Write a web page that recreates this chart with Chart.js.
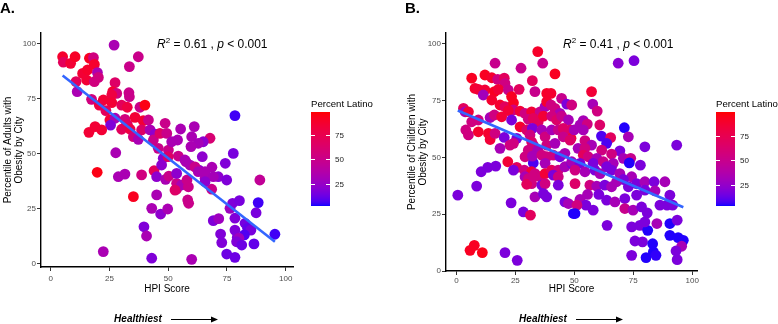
<!DOCTYPE html>
<html>
<head>
<meta charset="utf-8">
<script src="https://cdn.jsdelivr.net/npm/chart.js@4.4.1/dist/chart.umd.min.js"></script>
<style>
    html, body { margin: 0; padding: 0; background: #fff; }
    #wrap { position: relative; width: 778px; height: 324px; overflow: hidden; }
    .panel { position: absolute; top: 0; width: 389px; height: 324px; }
</style>
</head>
<body>
<div id="wrap">
    <div class="panel" style="left:0"><canvas id="chartA" width="389" height="324"></canvas></div>
    <div class="panel" style="left:389px"><canvas id="chartB" width="389" height="324"></canvas></div>
</div>
<script>
// panel A: adults
const hpiA = [27, 5.1, 5.4, 8.5, 10.4, 16.5, 18.2, 18.6, 37.3, 33.5, 13.6, 15.7, 19.9, 20.3, 10.8, 11.3, 15.3, 18.6, 27.4, 26.4,
    28.1, 17.4, 22.4, 26, 33.3, 33.5, 20.7, 26, 30.2, 32.6, 38, 40.1, 23.5, 25.2, 27.4, 25.5, 31.6, 32.6, 35.9, 30.2,
    33.8, 39.4, 41.6, 18.9, 16.3, 21.7, 35.2, 37.3, 38.7, 42.3, 44.4, 43.7, 46.5, 48.7, 49.4, 45.8, 50.1, 27.7, 47.9, 19.8,
    28.8, 31.6, 38.7, 44, 45.1, 35.2, 45.1, 43, 46.8, 49.8, 39.7, 40.8, 22.4, 43, 60, 48.9, 50.3, 47.2, 53.6, 53.6,
    55.7, 58.3, 58.7, 58.6, 58, 57.6, 63.1, 64.5, 65.7, 68.5, 68.6, 71.3, 74.9, 74.3, 77.7, 69.2, 71.5, 72.3, 72.8, 74.9,
    78.4, 76.3, 77.4, 80.3, 78.4, 78.4, 79.4, 86.5, 87.4, 88.3, 89, 78.4, 55.3, 61.1, 67.8, 60, 64.9, 62.8, 54, 51.5,
    59.7, 54.3, 50, 57.1, 59.3, 61.4, 62.8, 65.7, 69.2, 65.7, 53.6, 52.9, 82.7, 83.8, 85.2, 82.4, 80.1, 79.1, 81.3, 95.4];
const obesityA = [99.5, 94.2, 91.7, 91.2, 94.2, 93.5, 93.8, 90.7, 94.2, 89.7, 86.6, 88.2, 87, 84.8, 82.9, 78.3, 83.6, 82.9, 82.4, 78.3,
    77.5, 74.8, 74.5, 76.8, 77.8, 76, 72.2, 73.3, 72.2, 71.2, 71.2, 72.2, 69.7, 65.4, 66.2, 63.1, 65.7, 63.4, 66.6, 61.2,
    61.2, 65.1, 65.4, 62.4, 59.8, 60.9, 57.8, 56.6, 60.9, 60.9, 59, 56.3, 59.3, 63.9, 59.3, 52.5, 51.7, 50.5, 48, 41.6,
    39.6, 40.8, 40.4, 42.3, 39.6, 30.5, 31.3, 25.2, 22.6, 24.9, 16.8, 12.6, 5.5, 2.5, 2, 38.4, 39.9, 44.9, 33.9, 36.6,
    35.8, 29, 27.5, 35, 38.1, 46.4, 42.6, 48.7, 38.9, 33.9, 43.9, 39.6, 38.1, 45.7, 50.2, 19.6, 20.5, 13.5, 9.6, 4.4,
    2.9, 25.2, 27.5, 28.7, 20.7, 15.3, 12, 9, 23.2, 27.8, 38.1, 67.4, 61.3, 62.4, 57.1, 57.8, 55.5, 54.8, 56.3, 55.5,
    53.3, 49, 48.7, 47.2, 44.9, 44.1, 41.9, 41.9, 39.6, 37.3, 41.1, 33.5, 18.4, 16.1, 15.3, 13.1, 11.6, 10, 8.5, 13.4];
const latinoA = [33, 88, 70, 85, 90, 92, 55, 88, 50, 50, 85, 88, 33, 55, 70, 33, 85, 55, 65, 85,
    55, 55, 85, 80, 50, 50, 80, 85, 70, 80, 50, 95, 70, 85, 33, 18, 55, 65, 85, 70,
    80, 85, 50, 85, 85, 85, 55, 33, 65, 33, 22, 50, 65, 50, 50, 50, 50, 33, 22, 95,
    33, 33, 55, 70, 22, 92, 33, 33, 22, 33, 18, 33, 33, 18, 33, 33, 50, 22, 55, 50,
    33, 50, 50, 50, 50, 33, 22, 22, 33, 50, 33, 22, 18, 18, 16, 18, 28, 18, 18, 13,
    13, 28, 18, 16, 18, 18, 18, 11, 16, 6, 45, 6, 33, 33, 60, 33, 22, 31, 33, 33,
    33, 50, 65, 33, 33, 50, 33, 33, 31, 22, 22, 65, 15, 11, 16, 8, 28, 18, 13, 6];

// panel B: children
const hpiB = [34.5, 16.4, 36.6, 27.4, 6.5, 12.1, 15, 17.5, 20.3, 20.6, 32.2, 41.8, 7.9, 9.3, 12.1, 16.1, 17.8, 22, 23.4, 26.6,
    33.3, 38.3, 40.1, 44.6, 11.4, 15, 18.5, 20.6, 24.2, 24.2, 22, 27, 29.1, 31.9, 35.5, 37.6, 38.3, 40.1, 41.8, 43.9,
    46.8, 3, 3.7, 5.1, 6.5, 9.3, 14.3, 16.1, 19.2, 23.4, 27, 30.5, 32.6, 34.7, 36.9, 40.4, 42.5, 44.6, 47.5, 4,
    5.1, 9.3, 13.6, 14.3, 16.4, 20.3, 25.6, 22.7, 18.5, 24.2, 29.8, 32.2, 31.2, 31.9, 36.2, 37.6, 40.4, 43.2, 45.3, 48.2,
    48.6, 38.3, 41.8, 45.3, 30.5, 32.6, 34.5, 29.1, 32.6, 32.2, 36.2, 38.3, 37.6, 41.1, 43.9, 46, 21.8, 25.6, 28.8, 31.9,
    33.3, 35.5, 37.6, 40.4, 43.2, 46, 48.9, 24.2, 29.1, 30.5, 31.9, 29.8, 32.6, 36.2, 37.6, 41.1, 43.2, 43.2, 33.3, 36.9,
    38.3, 46, 47.5, 49.6, 16.7, 13.3, 10.5, 8.6, 0.6, 23.2, 28.4, 31.4, 5.8, 7.6, 11, 20.6, 25.8,
    68.6, 75.3, 57.3, 57.8, 59.7, 48.9, 53.8, 52.4, 55.5, 60.8, 49.9, 53.8, 71.2, 72.9, 61.5, 65.4, 48.2, 54.5, 57.3, 51.6,
    54.5, 63.7, 61.6, 79.9, 93.4, 69.3, 65.8, 53.8, 55.9, 59.5, 70.8, 73.9, 48.9, 52.4, 58, 62.3, 66.5, 63.7, 73.3, 78,
    50.3, 54.5, 58.7, 60.9, 65.8, 69.3, 74.3, 70.8, 76.4, 79.9, 83.8, 88.4, 50.3, 56.6, 59.5, 62.9, 65.8, 67.9, 72.9, 79.9,
    84.2, 90.5, 55.6, 60.4, 52.4, 54.9, 51.1, 63.7, 67.2, 71.4, 76.4, 71.4, 74.9, 78.5, 80.9, 86.3, 89.3, 91.7, 50.3, 58,
    74.3, 77.8, 81.1, 85, 79.9, 90.5, 93.6, 63.9, 75.7, 78.9, 83.2, 90.5, 94, 96.2, 95.5, 93.1, 83.5, 80.4, 84.6, 74.3, 93.6];
const obesityB = [96.6, 91.5, 91.5, 89.3, 84.9, 86.3, 85.1, 84.4, 84.9, 82.6, 83.8, 86.8, 80.4, 80, 79.7, 79, 80, 79.7, 76.8, 80,
    79, 78.2, 78.2, 76, 77.5, 75.3, 73.1, 72.4, 74.1, 70.9, 70.6, 70.4, 69.4, 70.1, 70.1, 72.4, 74.6, 73.1, 71.6, 69.4,
    73.5, 71.6, 70.1, 70.1, 65.7, 66.5, 67.6, 68.7, 67.9, 66.5, 63.5, 66.8, 67.2, 65.7, 68.2, 68.2, 66.5, 68.2, 66.5, 62.1,
    59.9, 61.3, 60.6, 57.9, 60.6, 58.8, 58.4, 55.4, 54, 56.2, 62.1, 62.8, 59.9, 56.9, 62.1, 59.1, 62.1, 62.1, 62.8, 62.1,
    58.4, 55.4, 56.2, 59.1, 53.2, 55.4, 53.2, 50.3, 47.6, 50.6, 51, 50.3, 47.4, 51, 50.3, 51.8, 48.1, 45.6, 44.4, 43.7,
    42.9, 41.5, 42.9, 44.4, 44.4, 45.9, 47.4, 44.4, 41.5, 40.7, 38.5, 38.2, 41.5, 37.8, 38.5, 42.2, 41.5, 37.8, 32.6, 34.1,
    32.6, 30.4, 29.7, 25.3, 46.2, 45.6, 43.7, 37.4, 33.4, 30, 26, 24.6, 9.1, 11.3, 8.1, 8.1, 4.7,
    91.5, 92.6, 79, 73.5, 70.4, 73.1, 66.2, 64.3, 64.7, 64.3, 62.1, 62.1, 63.1, 59.1, 59.4, 58.7, 57.6, 57.4, 55.4, 54,
    54, 56.2, 53.2, 54.7, 55.4, 52.9, 51.5, 51, 50.3, 49.6, 49.6, 49.6, 48.1, 47.4, 47.4, 48.1, 47.4, 45.9, 47.6, 46.6,
    44.4, 43.7, 44.4, 42.9, 44.4, 42.9, 41.5, 40.3, 38.5, 39.3, 39.3, 39.3, 38.5, 37.8, 37.4, 37.8, 37.1, 39.3, 37.1, 35.6,
    35.3, 33.4, 33.7, 33.7, 31.5, 29, 29, 31.2, 30.4, 31.9, 33.4, 27.5, 26.8, 28.2, 25.6, 29, 29, 29, 25.3, 26.8,
    19.4, 20.1, 17.9, 20.9, 21.6, 20.9, 22.4, 20.1, 13.2, 12.8, 12, 15.7, 14.7, 13.5, 10.9, 8.8, 8.4, 5.9, 6.9, 6.9, 5];
const latinoB = [90, 50, 50, 50, 92, 92, 88, 55, 70, 55, 70, 92, 88, 85, 85, 92, 85, 50, 92, 70,
    50, 90, 88, 50, 31, 88, 88, 70, 92, 55, 85, 85, 55, 85, 50, 33, 88, 55, 55, 33,
    18, 70, 33, 85, 55, 55, 33, 55, 85, 18, 88, 55, 70, 70, 85, 55, 65, 50, 33, 55,
    55, 88, 88, 85, 55, 18, 18, 55, 33, 55, 65, 18, 55, 65, 33, 55, 33, 50, 65, 65,
    85, 55, 33, 50, 55, 55, 33, 55, 9, 33, 55, 55, 33, 55, 18, 33, 85, 70, 55, 85,
    55, 55, 85, 70, 55, 33, 18, 18, 33, 55, 55, 70, 55, 18, 55, 18, 55, 18, 33, 18,
    18, 18, 33, 5, 18, 18, 18, 18, 18, 18, 18, 70, 92, 92, 95, 18, 18,
    22, 18, 85, 33, 55, 55, 33, 33, 55, 65, 33, 33, 5, 33, 9, 70, 65, 55, 33, 33,
    55, 9, 55, 18, 18, 18, 55, 70, 55, 33, 33, 50, 33, 18, 18, 50, 33, 18, 5, 18,
    55, 33, 18, 33, 18, 33, 33, 18, 18, 33, 18, 33, 65, 55, 33, 18, 33, 33, 18, 18,
    33, 18, 33, 18, 33, 18, 55, 18, 33, 18, 18, 50, 33, 18, 18, 18, 18, 18, 5, 18,
    18, 18, 5, 33, 18, 5, 18, 18, 18, 18, 5, 5, 5, 5, 33, 18, 5, 5, 6, 18, 18];

const hpiTicks = [0, 25, 50, 75, 100],
    obesityTicks = [0, 25, 50, 75, 100],
    latinoTicks = [25, 50, 75];

const FONT = '"Liberation Sans", Arial, Helvetica, sans-serif';

Chart.defaults.font.family = FONT;

// ---- blue -> red gradient, interpolated in Lab like ggplot ----
const WHITE = [0.95047, 1, 1.08883];

function _toLinear(c) {
    c /= 255;
    return c <= 0.04045 ? c / 12.92 : ((c + 0.055) / 1.055) ** 2.4;
}

function _fromLinear(c) {
    const v = c <= 0.0031308 ? 12.92 * c : 1.055 * Math.pow(Math.max(c, 0), 1 / 2.4) - 0.055;
    return Math.round(Math.min(1, Math.max(0, v)) * 255);
}

function _f(t) {
    return t > 216 / 24389 ? Math.cbrt(t) : (24389 / 27 * t + 16) / 116;
}

function _fInv(t) {
    return t ** 3 > 216 / 24389 ? t ** 3 : (116 * t - 16) / (24389 / 27);
}

function rgbToLab([r, g, b]) {
    const R = _toLinear(r), G = _toLinear(g), B = _toLinear(b),
        X = 0.4124 * R + 0.3576 * G + 0.1805 * B,
        Y = 0.2126 * R + 0.7152 * G + 0.0722 * B,
        Z = 0.0193 * R + 0.1192 * G + 0.9505 * B,
        fx = _f(X / WHITE[0]), fy = _f(Y / WHITE[1]), fz = _f(Z / WHITE[2]);
    return [116 * fy - 16, 500 * (fx - fy), 200 * (fy - fz)];
}

function labToRgb([L, a, b]) {
    const fy = (L + 16) / 116, fx = fy + a / 500, fz = fy - b / 200,
        X = WHITE[0] * _fInv(fx), Y = WHITE[1] * _fInv(fy), Z = WHITE[2] * _fInv(fz),
        R = 3.2406 * X - 1.5372 * Y - 0.4986 * Z,
        G = -0.9689 * X + 1.8758 * Y + 0.0415 * Z,
        B = 0.0557 * X - 0.2040 * Y + 1.0570 * Z;
    return `rgb(${_fromLinear(R)},${_fromLinear(G)},${_fromLinear(B)})`;
}

const LOW = rgbToLab([0, 0, 255]),
    HIGH = rgbToLab([255, 0, 0]);

function latinoColor(value, range) {
    const t = Math.min(1, Math.max(0, (value - range[0]) / (range[1] - range[0])));
    return labToRgb(LOW.map((v, i) => v + (HIGH[i] - v) * t));
}

function fitLine(xs, ys) {
    const n = xs.length,
        mx = xs.reduce((a, b) => a + b, 0) / n,
        my = ys.reduce((a, b) => a + b, 0) / n;
    let sxy = 0, sxx = 0;

    xs.forEach((x, i) => {
        sxy += (x - mx) * (ys[i] - my);
        sxx += (x - mx) ** 2;
    });
    const slope = sxy / sxx;
    return {slope, intercept: my - slope * mx};
}

// ---- extra drawing: panel letter, stat label, colour bar, arrow ----
function _drawStat(ctx, x, y, value) {
    const parts = [
        {text: 'R', font: `italic 12px ${FONT}`, dy: 0},
        {text: '2', font: `8px ${FONT}`, dy: -5},
        {text: ` = ${value} , `, font: `12px ${FONT}`, dy: 0},
        {text: 'p', font: `italic 12px ${FONT}`, dy: 0},
        {text: ' < 0.001', font: `12px ${FONT}`, dy: 0}
    ];
    ctx.textAlign = 'left';
    ctx.textBaseline = 'alphabetic';
    for (const part of parts) {
        ctx.font = part.font;
        ctx.fillText(part.text, x, y + part.dy);
        x += ctx.measureText(part.text).width;
    }
}

function decorations(panel) {
    return {
        id: 'decorations',
        afterDraw(chart) {
            const ctx = chart.ctx,
                bar = panel.colorBar,
                range = panel.latinoRange;

            ctx.save();
            ctx.fillStyle = '#000';

            ctx.font = `bold 15px ${FONT}`;
            ctx.textAlign = 'left';
            ctx.textBaseline = 'alphabetic';
            ctx.fillText(panel.letter, panel.letterX, 13);

            _drawStat(ctx, panel.statX, 48, panel.stat);

            // colour bar
            ctx.font = `9.6px ${FONT}`;
            ctx.fillText('Percent Latino', bar.x, 106.5);
            const yOf = v => bar.bottom - (v - range[0]) / (range[1] - range[0]) * (bar.bottom - bar.top);
            for (let y = bar.top; y < bar.bottom; y++) {
                const v = range[1] - (y + 0.5 - bar.top) / (bar.bottom - bar.top) * (range[1] - range[0]);
                ctx.fillStyle = latinoColor(v, range);
                ctx.fillRect(bar.x, y, bar.width, 1);
            }
            ctx.strokeStyle = '#fff';
            ctx.lineWidth = 1;
            ctx.font = `8px ${FONT}`;
            ctx.textBaseline = 'middle';
            for (const tick of latinoTicks) {
                const y = Math.round(yOf(tick)) + 0.5;
                ctx.beginPath();
                ctx.moveTo(bar.x, y);
                ctx.lineTo(bar.x + 4, y);
                ctx.moveTo(bar.x + bar.width - 4, y);
                ctx.lineTo(bar.x + bar.width, y);
                ctx.stroke();
                ctx.fillStyle = '#222';
                ctx.fillText(String(tick), bar.x + bar.width + 5, y);
            }

            // "Healthiest" arrow
            ctx.fillStyle = '#000';
            ctx.font = `bold italic 10px ${FONT}`;
            ctx.textAlign = 'center';
            ctx.textBaseline = 'alphabetic';
            ctx.fillText('Healthiest', panel.arrow.textX, 322);
            ctx.strokeStyle = '#000';
            ctx.lineWidth = 1;
            ctx.beginPath();
            ctx.moveTo(panel.arrow.from, 319.5);
            ctx.lineTo(panel.arrow.to - 6, 319.5);
            ctx.stroke();
            ctx.beginPath();
            ctx.moveTo(panel.arrow.to, 319.5);
            ctx.lineTo(panel.arrow.to - 7, 316.5);
            ctx.lineTo(panel.arrow.to - 7, 322.5);
            ctx.closePath();
            ctx.fill();

            ctx.restore();
        }
    };
}

function buildChart(canvasId, panel) {
    const latinoRange = panel.latinoRange,
        fit = fitLine(panel.hpi, panel.obesity),
        xMin = Math.min(...panel.hpi),
        xMax = Math.max(...panel.hpi);

    return new Chart(document.getElementById(canvasId), {
        type: 'scatter',
        data: {
            datasets: [
                {
                    type: 'line',
                    data: [
                        {x: xMin, y: fit.intercept + fit.slope * xMin},
                        {x: xMax, y: fit.intercept + fit.slope * xMax}
                    ],
                    borderColor: '#3366FF',
                    borderWidth: 2.6,
                    pointRadius: 0,
                    fill: false,
                    order: 0
                },
                {
                    data: panel.hpi.map((x, i) => ({x, y: panel.obesity[i]})),
                    pointBackgroundColor: panel.latino.map(v => latinoColor(v, latinoRange)),
                    pointBorderWidth: 0,
                    pointRadius: 5.4,
                    pointHoverRadius: 5.4,
                    order: 1
                }
            ]
        },
        options: {
            responsive: false,
            animation: false,
            events: [],
            layout: {
                padding: panel.padding
            },
            plugins: {
                legend: {display: false},
                tooltip: {enabled: false}
            },
            scales: {
                x: {
                    type: 'linear',
                    min: panel.xRange[0],
                    max: panel.xRange[1],
                    afterBuildTicks: scale => {
                        scale.ticks = hpiTicks.map(value => ({value}));
                    },
                    afterFit: scale => {
                        scale.height = panel.xAxisHeight;
                    },
                    border: {display: true, color: '#000', width: 1.4},
                    grid: {drawOnChartArea: false, drawTicks: true, tickLength: 4, tickColor: '#333', tickWidth: 1},
                    ticks: {font: {size: 8}, color: '#4d4d4d', padding: panel.xTickPadding, maxRotation: 0, autoSkip: false},
                    title: {display: true, text: 'HPI Score', color: '#000', font: {size: 10}, padding: {top: 0, bottom: 3.5}}
                },
                y: {
                    type: 'linear',
                    min: panel.yRange[0],
                    max: panel.yRange[1],
                    afterBuildTicks: scale => {
                        scale.ticks = obesityTicks.map(value => ({value}));
                    },
                    afterFit: scale => {
                        scale.width = panel.yAxisWidth;
                    },
                    border: {display: true, color: '#000', width: 1.4},
                    grid: {drawOnChartArea: false, drawTicks: true, tickLength: 4, tickColor: '#333', tickWidth: 1},
                    ticks: {font: {size: 8}, color: '#4d4d4d', padding: 1, autoSkip: false},
                    title: {display: true, text: panel.yTitle, color: '#000', font: {size: 10, lineHeight: 1.1}, padding: {top: 2.5, bottom: 0}}
                }
            }
        },
        plugins: [decorations(panel)]
    });
}

buildChart('chartA', {
    letter: 'A.',
    letterX: 0,
    stat: '0.61',
    statX: 157,
    yTitle: ['Percentile of Adults with', 'Obesity by City'],
    hpi: hpiA,
    obesity: obesityA,
    latino: latinoA,
    latinoRange: [2.5, 98.5],
    xRange: [-4.1, 103.1],
    yRange: [-1.5, 105],
    padding: {left: 0, right: 96, top: 33, bottom: 25},
    yAxisWidth: 41,
    xAxisHeight: 32,
    xTickPadding: 3,
    colorBar: {x: 311, width: 19, top: 112, bottom: 206},
    arrow: {textX: 138, from: 171, to: 218}
});

buildChart('chartB', {
    letter: 'B.',
    letterX: 16,
    stat: '0.41',
    statX: 174,
    yTitle: ['Percentile of Children with', 'Obesity by City'],
    hpi: hpiB,
    obesity: obesityB,
    latino: latinoB,
    latinoRange: [4, 99],
    xRange: [-4.4, 102],
    yRange: [0, 104.8],
    padding: {left: 15, right: 81, top: 33, bottom: 25},
    yAxisWidth: 42,
    xAxisHeight: 28,
    xTickPadding: 1,
    colorBar: {x: 327, width: 19, top: 112, bottom: 206},
    arrow: {textX: 154, from: 187, to: 234}
});
</script>
</body>
</html>
